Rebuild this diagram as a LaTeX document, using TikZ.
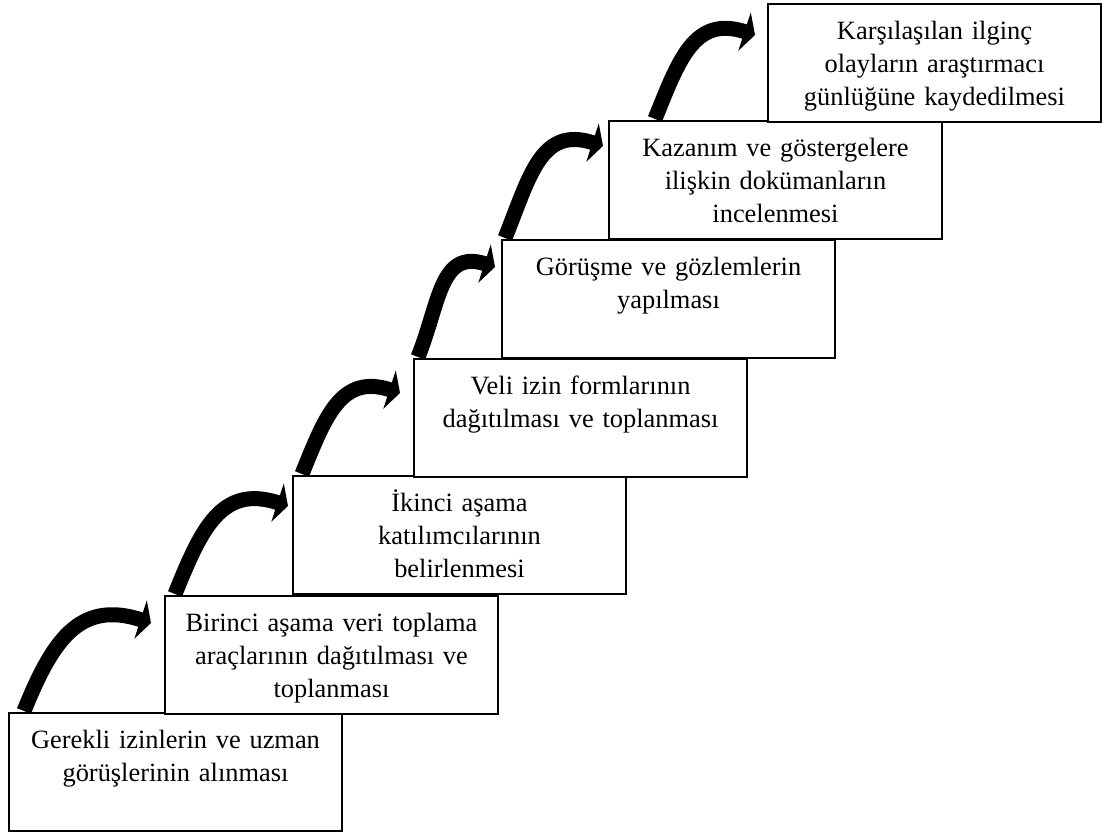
\documentclass[tikz,border=0pt]{standalone}
\usepackage{fontspec}
\setmainfont{Liberation Serif}
\usetikzlibrary{arrows.meta}

\begin{document}
\begin{tikzpicture}[x=1pt,y=1pt,
            stepbox/.style={draw,line width=2pt,fill=white,minimum width=333pt,minimum height=118pt,anchor=north west,inner sep=0pt},
            steptext/.style={anchor=north,align=center,text width=325pt,inner sep=0pt,font=\fontsize{26.4}{33}\selectfont},
            steparrow/.style={line width=15pt,-{Triangle[length=11pt,width=40pt]}}]
            \useasboundingbox (0,0) rectangle (1104,832);
            \node[stepbox] (s1) at (8,120) {};
            \node[stepbox] (s2) at (164,237) {};
            \node[stepbox] (s3) at (292,357) {};
            \node[stepbox] (s4) at (413,474) {};
            \node[stepbox] (s5) at (501,593) {};
            \node[stepbox] (s6) at (608,712) {};
            \node[stepbox] (s7) at (767,829) {};
            \node[steptext] (t1) at ([yshift=-13pt]s1.north) {\strut Gerekli izinlerin ve uzman\\ görüşlerinin alınması};
            \node[steptext] (t2) at ([yshift=-13pt]s2.north) {\strut Birinci aşama veri toplama\\ araçlarının dağıtılması ve\\ toplanması};
            \node[steptext] (t3) at ([yshift=-13pt]s3.north) {\strut İkinci aşama\\ katılımcılarının\\ belirlenmesi};
            \node[steptext] (t4) at ([yshift=-13pt]s4.north) {\strut Veli izin formlarının\\ dağıtılması ve toplanması};
            \node[steptext] (t5) at ([yshift=-13pt]s5.north) {\strut Görüşme ve gözlemlerin\\ yapılması};
            \node[steptext] (t6) at ([yshift=-13pt]s6.north) {\strut Kazanım ve göstergelere\\ ilişkin dokümanların\\ incelenmesi};
            \node[steptext] (t7) at ([yshift=-13pt]s7.north) {\strut Karşılaşılan ilginç\\ olayların araştırmacı\\ günlüğüne kaydedilmesi};
            \foreach \a/\b/\bx/\tx/\ty in {1/2/16/-13/28,2/3/11/-4/31,3/4/10/-13/35,4/5/5/-6/28,5/6/4/-5/26,6/7/47/-12/32}
                \draw[steparrow] ([xshift=\bx pt,yshift=1pt]s\a.north west) to[out=68,in=162,looseness=1.25] ([xshift=\tx pt,yshift=-\ty pt]s\b.north west);
        \end{tikzpicture}
\end{document}
